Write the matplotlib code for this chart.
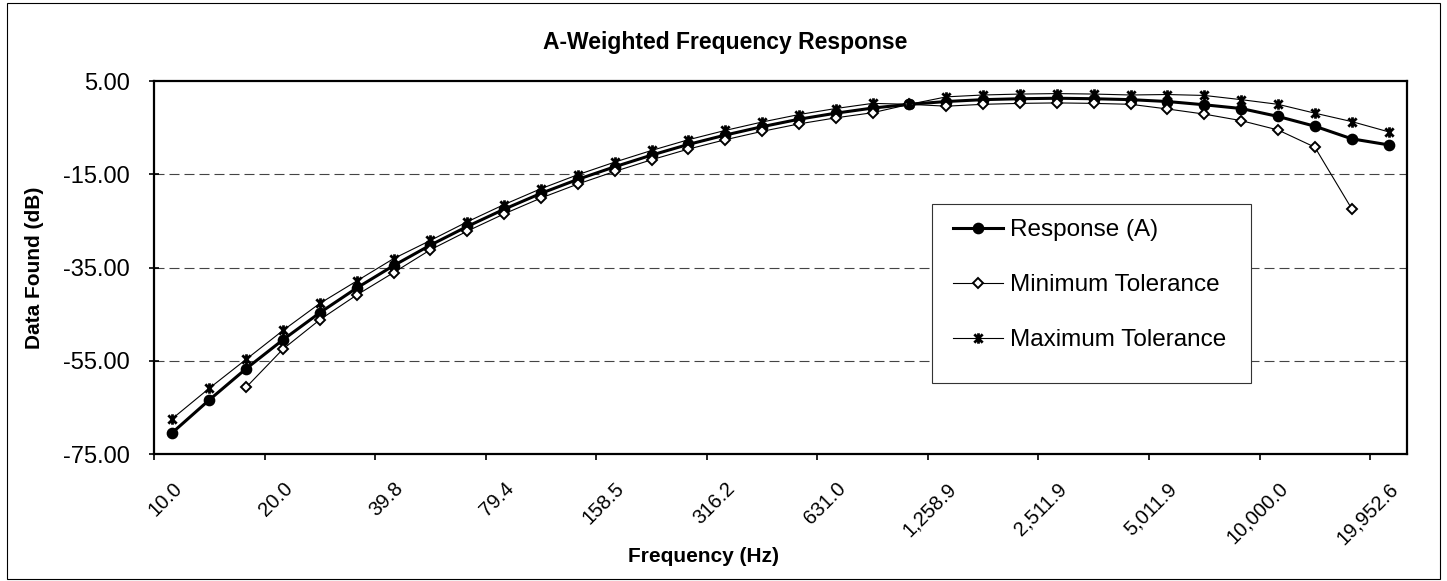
import matplotlib as mpl
mpl.use('Agg')
import matplotlib.pyplot as plt
from matplotlib.path import Path
from matplotlib.patches import Rectangle
from matplotlib.transforms import ScaledTranslation
import numpy as np

# 1/10-decade frequency bands (Hz)
freqs = [10.0, 12.6, 15.8, 20.0, 25.1, 31.6, 39.8, 50.1, 63.1, 79.4,
         100.0, 125.9, 158.5, 199.5, 251.2, 316.2, 398.1, 501.2, 631.0, 794.3,
         1000.0, 1258.9, 1584.9, 1995.3, 2511.9, 3162.3, 3981.1, 5011.9, 6309.6, 7943.3,
         10000.0, 12589.3, 15848.9, 19952.6]

response = [-70.4, -63.4, -56.7, -50.5, -44.7, -39.4, -34.6, -30.2, -26.2, -22.5,
            -19.1, -16.1, -13.4, -10.9, -8.6, -6.6, -4.8, -3.2, -1.9, -0.8,
            0.0, 0.6, 1.0, 1.2, 1.3, 1.2, 1.0, 0.6, -0.1, -0.9,
            -2.6, -4.7, -7.4, -8.7]

min_tol = [np.nan, np.nan, -60.7, -52.5, -46.2, -40.9, -36.1, -31.2, -27.2, -23.5,
           -20.1, -17.1, -14.4, -11.9, -9.6, -7.6, -5.8, -4.2, -2.9, -1.8,
           0.0, -0.4, 0.0, 0.2, 0.3, 0.2, 0.0, -1.0, -2.1, -3.5,
           -5.5, -9.2, -22.4, np.nan]

max_tol = [-67.4, -60.9, -54.7, -48.5, -42.7, -37.9, -33.1, -29.2, -25.2, -21.5,
           -18.1, -15.1, -12.4, -9.9, -7.6, -5.6, -3.8, -2.2, -0.9, 0.2,
           0.0, 1.6, 2.0, 2.2, 2.3, 2.2, 2.0, 2.1, 1.9, 1.0,
           0.0, -1.9, -3.7, -5.9]

y_ticks = [5, -15, -35, -55, -75]

plt.rcParams['font.family'] = ['Liberation Sans', 'DejaVu Sans']

W, H = 1447, 581
fig = plt.figure(figsize=(W / 100, H / 100), dpi=100)
ax = fig.add_axes([154 / W, 1 - 454 / H, (1407 - 154) / W, (454 - 81) / H])

x = np.arange(len(freqs))

# excel style star: X with a vertical bar
star = Path([(-1, -1), (1, 1), (-1, 1), (1, -1), (0, -1.25), (0, 1.25)],
            [Path.MOVETO, Path.LINETO] * 3)

ax.plot(x, response, color='black', lw=2.2, marker='o', ms=7.4,
        label='Response (A)', zorder=3)
ax.plot(x, min_tol, color='black', lw=0.8, marker='D', ms=5.2, mfc='white',
        mec='black', mew=1.4, label='Minimum Tolerance', zorder=4)
ax.plot(x, max_tol, color='black', lw=0.8, marker=star, ms=7.5, mfc='none',
        mec='black', mew=2.0, label='Maximum Tolerance', zorder=5)

for g in y_ticks[1:-1]:
    ax.axhline(g, color='#444444', lw=0.8, linestyle=(0, (9.0, 4.5)), zorder=1)

ax.set_xlim(-0.5, len(freqs) - 0.5)
ax.set_ylim(-75, 5)
ax.set_yticks(y_ticks)
ax.set_yticklabels(['%.2f' % v for v in y_ticks])
ax.set_xticks(np.arange(-0.5, len(freqs), 3))
ax.set_xticklabels([])
ax.set_xticks(x[::3], minor=True)
ax.set_xticklabels(['{:,.1f}'.format(f) for f in freqs[::3]], minor=True,
                   rotation=45, ha='right', va='top', rotation_mode='anchor',
                   fontsize=14.5)
shift = ScaledTranslation(-10 / 100, 0, fig.dpi_scale_trans)
for lbl in ax.get_xticklabels(minor=True):
    lbl.set_transform(lbl.get_transform() + shift)
ax.tick_params(axis='x', which='minor', length=0, pad=18)
ax.tick_params(axis='x', which='major', direction='out', length=4, width=1.2)
ax.tick_params(axis='y', direction='inout', length=7, width=1.2, labelsize=17, pad=14)

for s in ax.spines.values():
    s.set_linewidth(1.6)
    s.set_color('black')

fig.text(725 / W, 1 - 43 / H, 'A-Weighted Frequency Response', ha='center', va='center',
         fontsize=16.5, fontweight='bold')
fig.text(704 / W, 1 - 557 / H, 'Frequency (Hz)', ha='center', va='center',
         fontsize=15, fontweight='bold')
fig.text(35 / W, 1 - 268 / H, 'Data Found (dB)', ha='center', va='center',
         rotation=90, fontsize=15, fontweight='bold')

fig.patches.append(Rectangle((932 / W, 1 - 383 / H), (1251 - 932) / W, (383 - 204) / H,
                             transform=fig.transFigure, fc='white', ec='#333333',
                             lw=0.8, zorder=1))
leg = fig.legend(loc='upper left', bbox_to_anchor=(953 / W, 1 - 219 / H),
                 frameon=False, fontsize=17.5, borderpad=0, borderaxespad=0,
                 handlelength=2.06, handletextpad=0.3, labelspacing=1.36)
leg.set_zorder(5)
fig.patches.append(Rectangle((7 / W, 2 / H), (1440 - 7) / W, (H - 5) / H,
                             transform=fig.transFigure, fill=False, ec='black', lw=0.8))

plt.savefig('out.png', dpi=100)
